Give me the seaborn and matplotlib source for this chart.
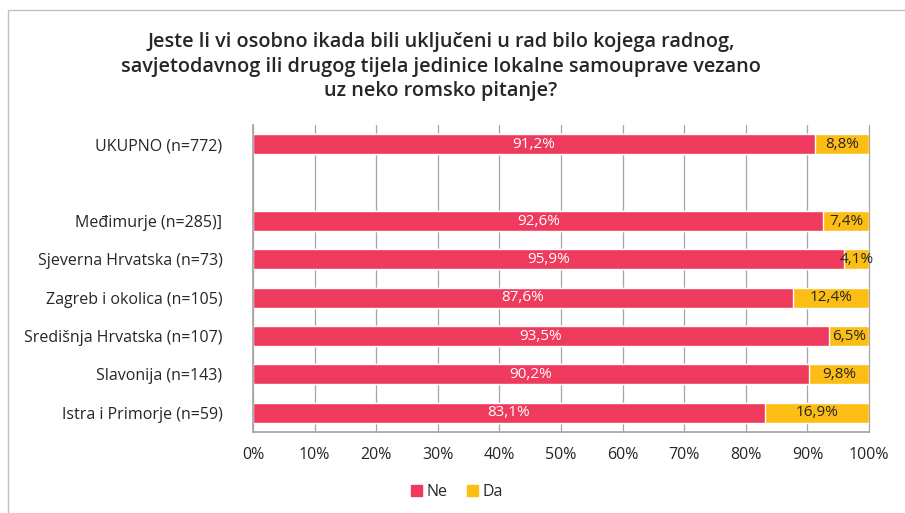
import matplotlib.pyplot as plt
import seaborn as sns
import pandas as pd
from matplotlib.patches import Rectangle

# data
categories = ["UKUPNO (n=772)", " ", "Međimurje (n=285)]", "Sjeverna Hrvatska (n=73)",
              "Zagreb i okolica (n=105)", "Središnja Hrvatska (n=107)", "Slavonija (n=143)",
              "Istra i Primorje (n=59)"]
ne = [91.2, None, 92.6, 95.9, 87.6, 93.5, 90.2, 83.1]
da = [8.8, None, 7.4, 4.1, 12.4, 6.5, 9.8, 16.9]
xticks = [0, 10, 20, 30, 40, 50, 60, 70, 80, 90, 100]

title = ("Jeste li vi osobno ikada bili uključeni u rad bilo kojega radnog,\n"
         "savjetodavnog ili drugog tijela jedinice lokalne samouprave vezano\n"
         "uz neko romsko pitanje?")

RED = "#EE3A5C"
YELLOW = "#FCBD14"

sns.set_theme(style="white")
plt.rcParams["font.family"] = ["Open Sans", "DejaVu Sans"]

df = pd.DataFrame({"cat": categories, "Ne": ne, "Da": da}).dropna()
df["total"] = df["Ne"] + df["Da"]

fig = plt.figure(figsize=(9.05, 5.13), dpi=100)
ax = fig.add_axes([0.2796, 0.158, 0.6807, 0.598])

sns.barplot(data=df, y="cat", x="total", order=categories, color=YELLOW,
            width=0.52, saturation=1, ax=ax, orient="h")
sns.barplot(data=df, y="cat", x="Ne", order=categories, color=RED,
            width=0.52, saturation=1, ax=ax, orient="h")

pos = {c: i for i, c in enumerate(categories)}
for _, r in df.iterrows():
    y = pos[r["cat"]]
    ax.text(r["Ne"] / 2, y, f"{r['Ne']:.1f}%".replace(".", ","), ha="center",
            va="center", color="white", fontsize=11)
    ax.text(r["Ne"] + r["Da"] / 2, y, f"{r['Da']:.1f}%".replace(".", ","), ha="center",
            va="center", color="#262626", fontsize=11)

ax.set_xlim(0, 100)
ax.set_ylim(7.5, -0.5)
ax.set_xticks(xticks)
ax.set_xticklabels([f"{t}%" for t in xticks], fontsize=11.5, color="#262626")
ax.tick_params(axis="y", labelsize=11.5, labelcolor="#262626", length=0, pad=22)
ax.tick_params(axis="x", length=0, pad=11)
ax.set_xlabel("")
ax.set_ylabel("")
ax.xaxis.grid(True, color="#A6A6A6", linewidth=0.9)
for gl in ax.get_xgridlines():
    gl.set_clip_on(False)
ax.set_axisbelow(True)
for s in ["top", "right"]:
    ax.spines[s].set_visible(False)
ax.spines["left"].set_color("#A6A6A6")
ax.spines["bottom"].set_color("#A6A6A6")

fig.text(0.487, 0.87, title, ha="center", va="center", fontsize=14.3, fontweight="semibold",
         color="#262626", linespacing=1.3)

handles = [Rectangle((0, 0), 1, 1, color=RED), Rectangle((0, 0), 1, 1, color=YELLOW)]
fig.legend(handles, ["Ne", "Da"], loc="center", bbox_to_anchor=(0.505, 0.04), ncol=2,
           frameon=False, fontsize=11.5, handlelength=0.7, handleheight=0.7,
           handletextpad=0.3, columnspacing=1.2)

# chart frame (cropped at right and bottom in the reference)
fig.add_artist(Rectangle((8 / 905, -0.05), 1.1, 0.05 + 1 - 10 / 513, transform=fig.transFigure,
                         fill=False, edgecolor="#BFBFBF", linewidth=1))

fig.savefig("out.png", dpi=100)
